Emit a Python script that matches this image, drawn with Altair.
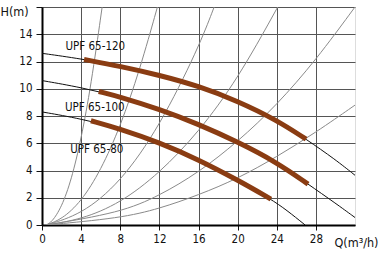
import altair as alt
import pandas as pd

FONT = "DejaVu Sans Condensed"

# ---- system (pipe) curves ----
sys1_q = [0.4, 1, 2, 3, 4, 5, 6.15]
sys1_h = [0, 0.2, 1.3, 3.3, 6.3, 10.2, 16]
sys2_q = [0.4, 2, 4, 6, 8, 10, 11.8]
sys2_h = [0, 0.4, 1.7, 4.0, 7.2, 11.4, 16]
sys3_q = [0.4, 4, 8, 12, 16, 17.6]
sys3_h = [0, 0.75, 3.1, 7.2, 13.0, 16]
sys4_q = [0.4, 4, 8, 12, 16, 20, 24.1]
sys4_h = [0, 0.4, 1.6, 3.8, 6.8, 10.7, 16]
sys5_q = [0.4, 8, 12, 16, 20, 24, 28, 32]
sys5_h = [0, 0.9, 2.15, 3.85, 6.1, 8.8, 12.1, 16]
sys6_q = [0.4, 8, 12, 16, 20, 24, 28, 32]
sys6_h = [0, 0.5, 1.2, 2.2, 3.4, 5.0, 6.8, 8.8]

# ---- pump curves (full thin line) ----
p120_q = [0, 4, 8, 12, 16, 20, 24, 27, 30, 32]
p120_h = [12.6, 12.2, 11.65, 11.0, 10.2, 9.1, 7.7, 6.3, 4.8, 3.65]
p100_q = [0, 4, 8, 12, 16, 20, 24, 27.2, 30, 32]
p100_h = [10.6, 10.1, 9.4, 8.5, 7.4, 6.1, 4.6, 3.0, 1.6, 0.55]
p80_q = [0, 4, 8, 12, 16, 20, 23.4, 25, 26.9]
p80_h = [8.3, 7.8, 7.05, 6.05, 4.8, 3.3, 1.9, 1.1, 0]

# ---- working ranges (thick brown) ----
t120_q = [4.3, 8, 12, 16, 20, 24, 27]
t120_h = [12.15, 11.65, 11.0, 10.2, 9.1, 7.7, 6.3]
t100_q = [5.8, 8, 12, 16, 20, 24, 27.2]
t100_h = [9.8, 9.4, 8.5, 7.4, 6.1, 4.6, 3.0]
t80_q = [5.0, 8, 12, 16, 20, 23.4]
t80_h = [7.65, 7.05, 6.05, 4.8, 3.3, 1.9]

# ---- labels ----
lab_text = ["UPF 65-120", "UPF 65-100", "UPF 65-80"]
lab_q = [5.45, 5.4, 5.6]
lab_h = [13.1, 8.6, 5.5]

x_ticks = [0, 4, 8, 12, 16, 20, 24, 28]
y_ticks = [0, 2, 4, 6, 8, 10, 12, 14, 16]


def frame(qs, hs, name):
    return pd.DataFrame({"Q": qs, "H": hs, "s": name})


sys_df = pd.concat([
    frame(sys1_q, sys1_h, "s1"), frame(sys2_q, sys2_h, "s2"),
    frame(sys3_q, sys3_h, "s3"), frame(sys4_q, sys4_h, "s4"),
    frame(sys5_q, sys5_h, "s5"), frame(sys6_q, sys6_h, "s6"),
])
pump_df = pd.concat([
    frame(p120_q, p120_h, "120"), frame(p100_q, p100_h, "100"),
    frame(p80_q, p80_h, "80"),
])
thick_df = pd.concat([
    frame(t120_q, t120_h, "120"), frame(t100_q, t100_h, "100"),
    frame(t80_q, t80_h, "80"),
])
lab_df = pd.DataFrame({"Q": lab_q, "H": lab_h, "t": lab_text})

xs = alt.Scale(domain=[0, 32], nice=False, zero=False)
ys = alt.Scale(domain=[0, 16], nice=False, zero=False)

x_enc = alt.X("Q:Q", scale=xs, axis=alt.Axis(
    values=x_ticks, title="Q(m³/h)", titleX=292, titleY=21,
    titleAlign="left", titleBaseline="alphabetic", titleFont=FONT,
    titleFontSize=12.5, titleFontWeight="normal", titleColor="#111",
    labelFont=FONT, labelFontSize=11.5, labelColor="#111", labelPadding=3,
    labelOverlap=False,
    tickSize=5, tickColor="#111", domainColor="#000", domainWidth=2,
    gridColor="#555", gridWidth=1, gridOpacity=1, labelFlush=False))
y_enc = alt.Y("H:Q", scale=ys, axis=alt.Axis(
    values=y_ticks, title="H(m)", titleX=-42, titleY=8, titleAngle=0,
    titleAlign="left", titleBaseline="alphabetic", titleFont=FONT,
    titleFontSize=12.5, titleFontWeight="normal", titleColor="#111",
    labelFont=FONT, labelFontSize=11.5, labelColor="#111", labelPadding=4,
    labelOverlap=False,
    labelExpr="datum.value == 16 ? '' : datum.label",
    tickSize=6, tickColor="#111", domainColor="#000", domainWidth=2,
    gridColor="#555", gridWidth=1, gridOpacity=1, labelFlush=False))

sys_layer = alt.Chart(sys_df).mark_line(
    color="#8a8a8a", strokeWidth=1, interpolate="basis", clip=True
).encode(x=x_enc, y=y_enc, detail="s:N")

pump_layer = alt.Chart(pump_df).mark_line(
    color="#111", strokeWidth=1, interpolate="basis", clip=True
).encode(x=x_enc, y=y_enc, detail="s:N")

thick_layer = alt.Chart(thick_df).mark_line(
    color="#8a3c12", strokeWidth=5, interpolate="basis", strokeCap="butt"
).encode(x=x_enc, y=y_enc, detail="s:N")

lab_layer = alt.Chart(lab_df).mark_text(
    font=FONT, fontSize=11.5, color="#111", align="center", baseline="middle"
).encode(x=x_enc, y=y_enc, text="t:N")

chart = alt.layer(sys_layer, pump_layer, thick_layer, lab_layer).properties(
    width=313, height=218, autosize="none",
    padding={"left": 42, "top": 7, "right": 29, "bottom": 31},
).configure_view(stroke="#000", strokeWidth=1.5).configure_axis(
    labelOverlap=False
).configure(background="white")

chart.save("out.html", embed_options={"renderer": "svg", "actions": False})
